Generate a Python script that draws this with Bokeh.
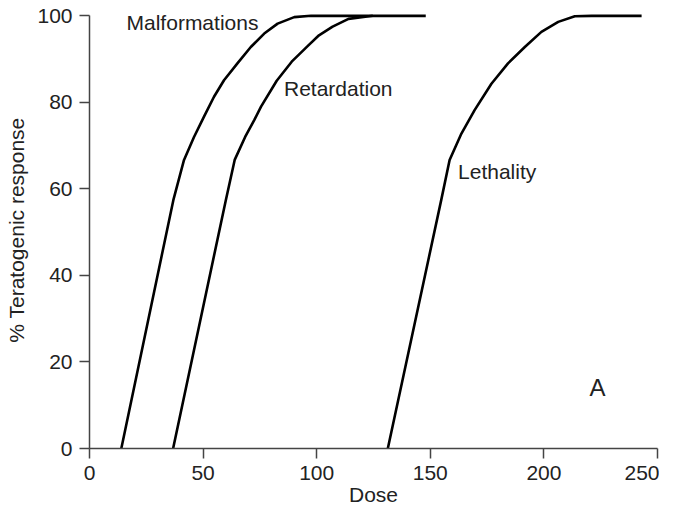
from bokeh.plotting import figure
from bokeh.models import Range1d, FixedTicker, ColumnDataSource
from bokeh.core.properties import value
from bokeh.embed import file_html
from bokeh.resources import INLINE

# ---- data ----
malf_dose = [14, 36.9, 41.6, 46, 50.4, 54.8, 59.2, 65.1, 71, 76.9, 82.8, 90.1, 97.5, 148]
malf_resp = [0, 57.4, 66.7, 72, 76.7, 81.3, 85.1, 89, 92.8, 95.9, 98.2, 99.7, 100, 100]

ret_dose = [36.8, 60, 63.9, 68.5, 72.5, 75.5, 82.4, 89, 96, 101, 107, 114, 124.7]
ret_resp = [0, 57.4, 66.7, 72, 75.9, 79, 85, 89.4, 93, 95.5, 97.5, 99.3, 100]

leth_dose = [131.3, 154.8, 158.5, 163.7, 169.5, 176.9, 184.2, 191.6, 198.9, 206.3, 213.6, 221, 243]
leth_resp = [0, 57.4, 66.7, 72.8, 78.2, 84.3, 89, 92.8, 96.3, 98.6, 99.9, 100, 100]

label_text = ["Malformations", "Retardation", "Lethality"]
label_x = [16.3, 85.6, 162.2]
label_y = [98.5, 83.3, 64.0]

panel_text = ["A"]
panel_x = [220.1]
panel_y = [14.1]

x_ticks = [0, 50, 100, 150, 200, 250]
y_ticks = [0, 20, 40, 60, 80, 100]

FONT = "Liberation Sans"
TXT = "#222222"
AX = "#444444"

p = figure(width=659, height=508, output_backend="svg", toolbar_location=None,
           x_range=Range1d(0, 250), y_range=Range1d(0, 101),
           min_border_left=89, min_border_right=2, min_border_top=11,
           min_border_bottom=60)
p.outline_line_color = None
p.grid.grid_line_color = None
p.background_fill_color = "white"
p.border_fill_color = "white"

for ax in (p.xaxis[0], p.yaxis[0]):
    ax.axis_line_color = AX
    ax.axis_line_width = 1.5
    ax.major_tick_line_color = AX
    ax.major_tick_line_width = 1.5
    ax.major_tick_out = 10
    ax.major_tick_in = 0
    ax.minor_tick_line_color = None
    ax.major_label_text_font = FONT
    ax.major_label_text_font_size = "21px"
    ax.major_label_text_color = TXT
    ax.axis_label_text_font = FONT
    ax.axis_label_text_font_size = "21px"
    ax.axis_label_text_font_style = "normal"
    ax.axis_label_text_color = TXT
    ax.major_label_standoff = 7

p.xaxis.ticker = FixedTicker(ticks=x_ticks)
p.yaxis.ticker = FixedTicker(ticks=y_ticks)
p.xaxis.bounds = (0, 250)
p.yaxis.bounds = (0, 100)
p.xaxis.axis_label = "Dose"
p.yaxis.axis_label = "% Teratogenic response"
p.xaxis.axis_label_standoff = 0
p.yaxis.axis_label_standoff = 6

for xs, ys in ((malf_dose, malf_resp), (ret_dose, ret_resp), (leth_dose, leth_resp)):
    p.line(xs, ys, line_color="black", line_width=2.6, line_join="round")

src = ColumnDataSource(dict(x=label_x, y=label_y, t=label_text))
p.text(x="x", y="y", text="t", source=src, text_font=value(FONT),
       text_font_size="21px", text_color=TXT, text_align="left",
       text_baseline="middle")

src2 = ColumnDataSource(dict(x=panel_x, y=panel_y, t=panel_text))
p.text(x="x", y="y", text="t", source=src2, text_font=value(FONT),
       text_font_size="24px", text_color=TXT, text_align="left",
       text_baseline="middle")

open("out.html", "w").write(file_html(p, INLINE))
